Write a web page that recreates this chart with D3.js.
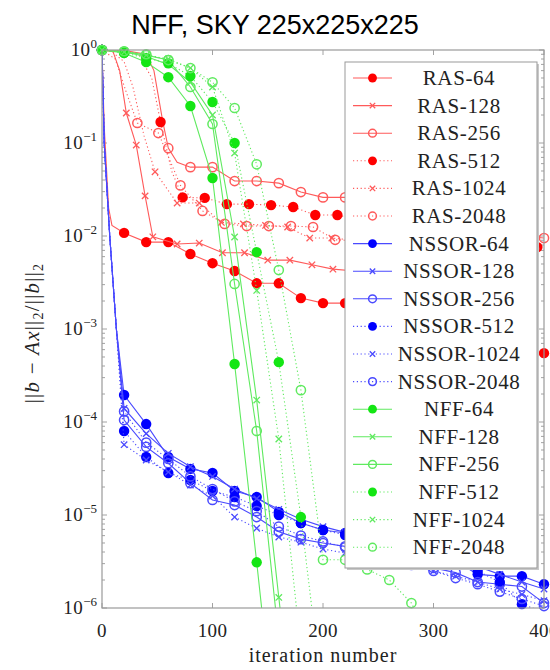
<!DOCTYPE html>
<html><head><meta charset="utf-8">
<script src="https://cdn.jsdelivr.net/npm/d3@7/dist/d3.min.js"></script>
<style>body{margin:0;background:#fff}</style>
</head><body>
<svg id="c" width="550" height="670"></svg>
<script>
const title = "NFF, SKY 225x225x225";
const xLabel = "iteration number";
const xTicks = [0, 100, 200, 300, 400];
const yTicks = [1, 1e-1, 1e-2, 1e-3, 1e-4, 1e-5, 1e-6];
const yExponents = ["0", "\u22121", "\u22122", "\u22123", "\u22124", "\u22125", "\u22126"];
const names = ["RAS-64","RAS-128","RAS-256","RAS-512","RAS-1024","RAS-2048",
  "NSSOR-64","NSSOR-128","NSSOR-256","NSSOR-512","NSSOR-1024","NSSOR-2048",
  "NFF-64","NFF-128","NFF-256","NFF-512","NFF-1024","NFF-2048"];

// [iteration, residual, (0 = no marker)]
const ras64 = [[0,1],[2,0.15,0],[6,0.02,0],[9,0.013,0],[20,0.0108],[40,0.0086],[60,0.0086],[80,0.0064],[100,0.0051],[120,0.0042],[140,0.0031],[160,0.0031],[180,0.00215],[200,0.0019],[220,0.0019],[240,0.0016],[260,0.0013],[280,0.0011],[300,0.001],[320,0.0009],[340,0.0008],[360,0.0007],[380,0.0006],[400,0.00055]];
const ras128 = [[0,1],[10,0.96,0],[16,0.6,0],[22,0.21],[31,0.095],[39,0.027],[46,0.0098],[68,0.0082],[88,0.0084],[109,0.0066],[129,0.0066],[150,0.0055],[170,0.0055],[190,0.0049],[209,0.0044],[229,0.0042],[249,0.004],[269,0.0037],[289,0.0035],[309,0.0033],[329,0.0031],[349,0.0029],[369,0.0027],[389,0.0026]];
const ras256 = [[0,1],[20,0.99,0],[40,0.9,0],[47,0.6,0],[55,0.17,0],[60,0.088],[68,0.062,0],[80,0.055],[100,0.055],[120,0.039],[140,0.039],[160,0.037],[180,0.0297],[200,0.026],[220,0.026],[240,0.022],[260,0.019],[280,0.017],[300,0.015],[320,0.013],[340,0.012],[360,0.011],[380,0.01],[400,0.0095]];
const ras512 = [[0,1],[13,0.99,0],[33,0.9,0],[45,0.5,0],[53,0.168],[63,0.05,0],[73,0.026],[93,0.0257],[113,0.022],[133,0.022],[153,0.0215],[173,0.0205],[193,0.0168],[213,0.0168],[233,0.015],[253,0.014],[273,0.013],[293,0.012],[313,0.011],[333,0.01],[353,0.0093],[373,0.0085],[394,0.0076]];
const ras1024 = [[0,1],[8,0.98,0],[20,0.75,0],[28,0.4,0],[38,0.12,0],[48,0.049],[68,0.0226],[88,0.0226],[108,0.014],[128,0.0135],[148,0.013],[168,0.0125],[188,0.0095],[208,0.0095],[228,0.009],[248,0.0087],[268,0.0084],[288,0.0081],[308,0.0078],[328,0.0075],[348,0.0073],[368,0.0071],[388,0.0069]];
const ras2048 = [[0,1],[12,0.8,0],[22,0.35,0],[32,0.164],[51,0.128],[71,0.035],[91,0.0186],[111,0.0135],[131,0.0128],[151,0.0128],[171,0.0128],[191,0.0125],[211,0.0091],[231,0.0089],[251,0.0087],[271,0.0085],[291,0.0083],[311,0.0081],[331,0.0079],[351,0.0077],[371,0.0075],[391,0.0073]];

const nssor64 = [[0,1],[2,0.1,0],[7,0.01,0],[13,0.001,0],[20,1.95e-4],[40,9.5e-5],[60,4.2e-5],[80,3.13e-5],[100,2.83e-5],[120,1.81e-5],[140,1.56e-5],[160,1.08e-5],[180,8.2e-6],[200,6.9e-6],[220,6.4e-6],[240,5.6e-6],[260,5.0e-6],[280,4.4e-6],[300,3.8e-6],[320,3.2e-6],[340,2.3e-6],[360,2.2e-6],[380,2.2e-6],[400,1.8e-6]];
const nssor128 = [[0,1],[2,0.1,0],[7,0.01,0],[13,0.001,0],[20,1.4e-4],[40,7.5e-5],[60,4.6e-5],[80,3.3e-5],[100,2.6e-5],[120,1.9e-5],[140,1.5e-5],[160,1.15e-5],[180,9e-6],[200,7.5e-6],[220,6.5e-6],[240,5.8e-6],[260,5.2e-6],[280,4.6e-6],[300,4.0e-6],[320,3.4e-6],[340,2.8e-6],[360,2.3e-6],[380,1.9e-6],[400,1.6e-6]];
const nssor256 = [[0,1],[2,0.1,0],[7,0.01,0],[13,0.001,0],[20,1.05e-4],[40,5.4e-5],[60,3.6e-5],[80,2.2e-5],[100,1.45e-5],[120,1.28e-5],[140,9.5e-6],[160,6.6e-6],[180,5.5e-6],[200,5e-6],[220,4.6e-6],[240,4.1e-6],[260,3.6e-6],[280,3.1e-6],[300,2.7e-6],[320,2.4e-6],[340,1.9e-6],[360,1.8e-6],[380,1.7e-6],[400,1.13e-6]];
const nssor512 = [[0,1],[2,0.1,0],[7,0.01,0],[13,0.001,0],[20,8e-5],[40,4.2e-5],[60,2.83e-5],[80,2.38e-5],[100,1.81e-5],[120,1.56e-5],[140,1.25e-5],[160,1.0e-5],[180,8.2e-6],[200,6.9e-6],[220,6.1e-6],[240,5.4e-6],[260,4.8e-6],[280,4.2e-6],[300,3.6e-6],[320,3.0e-6],[340,2.5e-6],[360,1.9e-6],[380,1.1e-6],[400,9e-7]];
const nssor1024 = [[0,1],[2,0.1,0],[7,0.01,0],[13,0.001,0],[20,5.7e-5],[40,3.9e-5],[60,2.9e-5],[80,2.1e-5],[100,1.6e-5],[120,9.5e-6],[140,7.2e-6],[160,5.8e-6],[180,5.1e-6],[200,4.3e-6],[220,3.9e-6],[240,3.5e-6],[260,3.1e-6],[280,2.8e-6],[300,2.5e-6],[320,2.2e-6],[340,1.9e-6],[360,1.6e-6],[380,1.4e-6],[400,1.2e-6]];
const nssor2048 = [[0,1],[2,0.1,0],[7,0.01,0],[13,0.001,0],[20,1.3e-4],[40,6e-5],[60,4e-5],[80,2.6e-5],[100,1.9e-5],[120,1.4e-5],[140,1.1e-5],[160,7.5e-6],[180,6e-6],[200,5.2e-6],[220,4.5e-6],[240,3.9e-6],[260,3.4e-6],[280,2.9e-6],[300,2.5e-6],[320,2.1e-6],[340,1.8e-6],[360,1.5e-6],[380,1.25e-6],[400,1.05e-6]];

const nff64 = [[0,1],[20,0.93],[40,0.74],[60,0.51],[80,0.25],[100,0.042],[120,4.2e-4],[140,3.1e-6],[160,2e-8]];
const nff128 = [[0,1],[20,0.95],[40,0.85],[60,0.7],[80,0.45],[100,0.2],[120,0.00975],[140,1.72e-4],[160,1.3e-6],[180,1e-8]];
const nff256 = [[0,1],[20,0.96],[40,0.88],[60,0.78],[80,0.4],[100,0.16],[120,0.00305],[140,8e-5],[160,4.6e-7],[180,1e-9]];
const nff512 = [[0,1],[20,0.93],[40,0.82],[60,0.72],[80,0.525],[100,0.276],[120,0.1],[140,0.0067],[160,4.4e-4],[180,9.5e-6],[200,1e-7]];
const nff1024 = [[0,1],[20,0.95],[40,0.88],[60,0.8],[80,0.64],[100,0.4],[120,0.078],[140,0.0026],[160,6.56e-5],[180,3.5e-7]];
const nff2048 = [[0,1],[20,0.97],[40,0.9],[60,0.78],[80,0.64],[100,0.45],[120,0.238],[140,0.059],[160,0.0043],[180,2.2e-4],[200,3.3e-6],[220,3.3e-6],[240,2.6e-6],[260,2.0e-6],[280,1.13e-6],[300,4e-7]];

const seriesData = [ras64,ras128,ras256,ras512,ras1024,ras2048,
  nssor64,nssor128,nssor256,nssor512,nssor1024,nssor2048,
  nff64,nff128,nff256,nff512,nff1024,nff2048];

const famColor = {RAS:"#ff0000", NSSOR:"#0000ff", NFF:"#14e614"};
const famLine = {RAS:"#ff5a5a", NSSOR:"#4a4aff", NFF:"#5fea5f"};

const svg = d3.select("#c");
const L = 102, R = 544, T = 50, B = 608;
const x = d3.scaleLinear().domain([0, 400]).range([L, R]);
const y = d3.scaleLog().domain([1e-6, 1]).range([B, T]);
const serif = "'Liberation Serif', 'DejaVu Serif', serif";
const ink = "#222";

svg.append("text").attr("x", 275).attr("y", 34).attr("text-anchor","middle")
  .attr("font-family","'Liberation Sans', Arial, sans-serif").attr("font-size", 27)
  .attr("fill","#000").text(title);

svg.append("defs").append("clipPath").attr("id","clip")
  .append("rect").attr("x",L).attr("y",T).attr("width",R-L).attr("height",B-T);

// ticks
const tickG = svg.append("g").attr("stroke","#8a8a8a").attr("stroke-width",0.8);
xTicks.forEach(t => {
  tickG.append("line").attr("x1",x(t)).attr("x2",x(t)).attr("y1",B).attr("y2",B-5);
  tickG.append("line").attr("x1",x(t)).attr("x2",x(t)).attr("y1",T).attr("y2",T+5);
});
for (let e = -6; e < 0; e++) {
  for (let m = 2; m <= 9; m++) {
    const v = m * Math.pow(10, e);
    tickG.append("line").attr("x1",L).attr("x2",L+3).attr("y1",y(v)).attr("y2",y(v));
    tickG.append("line").attr("x1",R).attr("x2",R-3).attr("y1",y(v)).attr("y2",y(v));
  }
}
yTicks.forEach(t => {
  tickG.append("line").attr("x1",L).attr("x2",L+5).attr("y1",y(t)).attr("y2",y(t));
  tickG.append("line").attr("x1",R).attr("x2",R-5).attr("y1",y(t)).attr("y2",y(t));
});

// tick labels
xTicks.forEach(t => {
  svg.append("text").attr("x",x(t)).attr("y",637).attr("text-anchor","middle")
    .attr("font-family",serif).attr("font-size",19).attr("letter-spacing",0.4).attr("fill",ink).text(t);
});
yTicks.forEach((t,i) => {
  const tx = svg.append("text").attr("x",97).attr("y",y(t)+6).attr("text-anchor","end")
    .attr("font-family",serif).attr("fill",ink);
  tx.append("tspan").attr("font-size",19).attr("letter-spacing",0.4).text("10");
  tx.append("tspan").attr("font-size",13).attr("dy",-8).text(yExponents[i]);
});

// axis labels
svg.append("text").attr("x",(L+R)/2).attr("y",662).attr("text-anchor","middle")
  .attr("font-family",serif).attr("font-size",20).attr("letter-spacing",1).attr("fill",ink).text(xLabel);
const yl = svg.append("text").attr("transform","translate(39,333) rotate(-90)")
  .attr("text-anchor","middle").attr("font-family",serif).attr("font-size",21)
  .attr("letter-spacing",1.2).attr("fill",ink);
yl.append("tspan").text("||");
yl.append("tspan").attr("font-style","italic").text("b");
yl.append("tspan").text(" \u2212 ");
yl.append("tspan").attr("font-style","italic").text("Ax");
yl.append("tspan").text("||");
yl.append("tspan").attr("font-size",14).attr("dy",4).text("2");
yl.append("tspan").attr("dy",-4).text("/||");
yl.append("tspan").attr("font-style","italic").text("b");
yl.append("tspan").text("||");
yl.append("tspan").attr("font-size",14).attr("dy",4).text("2");

function styleOf(name) {
  const fam = name.split("-")[0];
  const size = +name.split("-")[1];
  const idx = [64,128,256,512,1024,2048].indexOf(size);
  return {fam, color: famColor[fam], line: famLine[fam], dotted: idx >= 3, mark: ["dot","x","o"][idx % 3]};
}
function drawMarker(g, st, cx, cy, scale) {
  if (st.mark === "dot") {
    g.append("circle").attr("cx",cx).attr("cy",cy).attr("r",5.2*scale).attr("fill",st.color);
  } else if (st.mark === "o") {
    g.append("circle").attr("cx",cx).attr("cy",cy).attr("r",4.6*scale).attr("fill","none")
      .attr("stroke",st.line).attr("stroke-width",1.5);
  } else {
    const s = 3.2*scale;
    g.append("path").attr("d",`M${cx-s},${cy-s}L${cx+s},${cy+s}M${cx-s},${cy+s}L${cx+s},${cy-s}`)
      .attr("stroke",st.line).attr("stroke-width",1.3);
  }
}

const line = d3.line().x(d => x(d[0])).y(d => y(d[1]));
const plot = svg.append("g");
names.forEach((name, i) => {
  const st = styleOf(name);
  const data = seriesData[i];
  plot.append("path").datum(data).attr("d", line).attr("clip-path","url(#clip)")
    .attr("fill","none").attr("stroke",st.line).attr("stroke-width",1.1)
    .attr("stroke-dasharray", st.dotted ? "1.2,2.6" : null);
  const mg = plot.append("g");
  data.filter(d => d[2] !== 0 && d[1] >= 1e-6 * 0.97).forEach(d => drawMarker(mg, st, x(d[0]), y(d[1]), 1));
});

// frame
svg.append("rect").attr("x",L).attr("y",T).attr("width",R-L).attr("height",B-T)
  .attr("fill","none").attr("stroke","#9a9a9a").attr("stroke-width",1.2);

// legend
const lx = 345, ly = 62, lw = 192, lh = 506;
svg.append("rect").attr("x",lx+2).attr("y",ly+2).attr("width",lw).attr("height",lh).attr("fill","#c8c8c8");
svg.append("rect").attr("x",lx).attr("y",ly).attr("width",lw).attr("height",lh)
  .attr("fill","#fff").attr("stroke","#999").attr("stroke-width",1);
const leg = svg.append("g");
names.forEach((name, i) => {
  const st = styleOf(name);
  const cy = 78 + i * 27.6;
  leg.append("line").attr("x1",353).attr("x2",392).attr("y1",cy).attr("y2",cy)
    .attr("stroke",st.line).attr("stroke-width",1.1).attr("stroke-dasharray", st.dotted ? "1.2,2.6" : null);
  drawMarker(leg, st, 372.5, cy, 0.85);
  leg.append("text").attr("x",459).attr("y",cy+7).attr("text-anchor","middle")
    .attr("font-family",serif).attr("font-size",21).attr("letter-spacing",0.6).attr("fill",ink).text(name);
});
</script>
</body></html>
